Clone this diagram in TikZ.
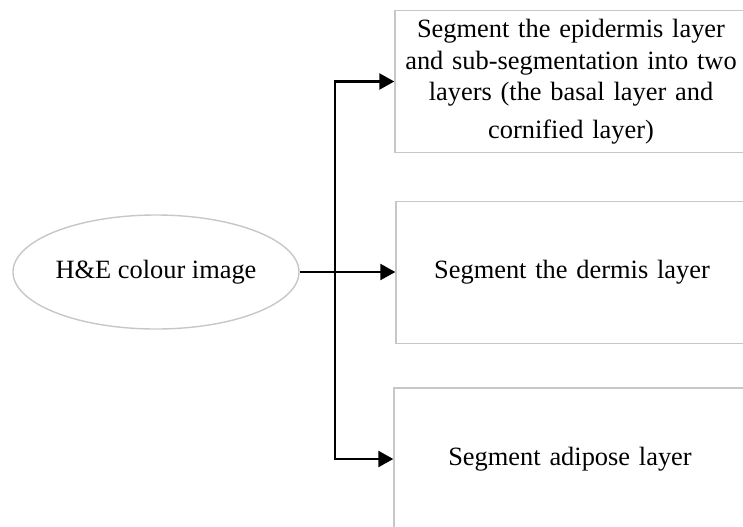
\documentclass[tikz,border=0pt]{standalone}
\usepackage{fontspec}
\setmainfont{Liberation Serif}
\usetikzlibrary{shapes.geometric, arrows.meta, calc}

\begin{document}
\begin{tikzpicture}[x=0.5pt, y=-0.5pt, >={Triangle[length=7.5pt,width=8pt]},
  every node/.style={font=\fontsize{13.2}{15.5}\selectfont},
  stage/.style={draw=black!22, line width=0.7pt, minimum width=176pt, minimum height=71pt, text width=172pt, align=center, inner sep=2pt},
  link/.style={->, line width=1.2pt}]

\clip (0,0) rectangle (743,526);

\node[ellipse, draw=black!22, line width=0.7pt, inner sep=0pt, minimum width=143pt, minimum height=57pt] (img) at (156,272) {H\&E colour image};

% the three segmentation stages
\node[stage] (epi) at (571,81.5) {Segment the epidermis layer\\[0.5pt] and sub-segmentation into two\\ layers (the basal layer and\\[3.5pt] cornified layer)};
\node[stage] (derm) at (572,272.5) {Segment the dermis layer};
\node[stage] (adip) at (570,459) {Segment adipose layer};

\coordinate (split) at (335,272);

\draw[link] (img.east) -- (img.east -| derm.west);
\draw[link] (split) |- (epi.west);
\draw[link] (split) |- (adip.west);

\end{tikzpicture}
\end{document}
